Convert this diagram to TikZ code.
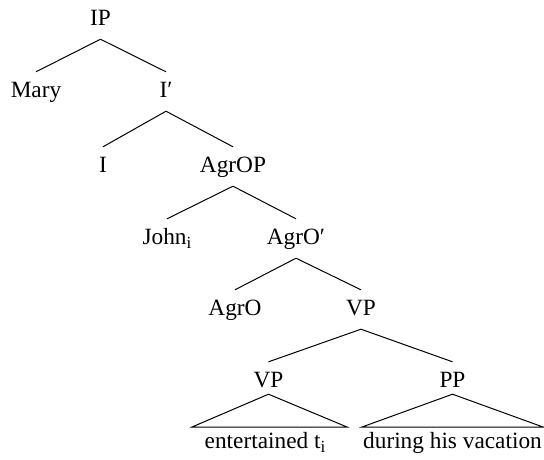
\documentclass[tikz,border=0pt]{standalone}
\usepackage{fontspec}
\setmainfont{Liberation Serif}
% index subscript on a trace or a moved phrase
\newcommand{\idx}[1]{\raisebox{-4pt}{\fontsize{17}{20}\selectfont #1}}
\begin{document}
\begin{tikzpicture}[x=1pt,y=-1pt,
  lab/.style={anchor=base, font=\fontsize{23.3}{28}\selectfont,
              text height=16pt, text depth=5pt, inner xsep=0pt, inner ysep=9pt},
  leaf/.style={lab, inner ysep=5pt},
  branch/.style={line width=1pt, line join=miter}]
\useasboundingbox (0,0) rectangle (544,459);

% labels
\node[lab] (ip)    at (100.5,25)  {IP};
\node[lab] (mary)  at (36,97)     {Mary};
\node[lab] (ibar)  at (166,97)    {I′};
\node[lab] (i)     at (103,172)   {I};
\node[lab] (agrop) at (233,172)   {AgrOP};
\node[lab] (john)  at (167,244)   {John\idx{i}};
\node[lab] (agrob) at (296,244)   {AgrO′};
\node[lab] (agro)  at (235,315)   {AgrO};
\node[lab] (vp)    at (361,315)   {VP};
\node[lab] (vpl)   at (268.5,387) {VP};
\node[lab] (pp)    at (452.5,387) {PP};
\node[leaf] (ent)  at (265,448)   {entertained t\idx{i}};
\node[leaf] (dur)  at (452.5,448) {during his vacation};

% branches
\draw[branch] (ip.south) -- (mary.north);
\draw[branch] (ip.south) -- (ibar.north);
\draw[branch] (ibar.south) -- (i.north);
\draw[branch] (ibar.south) -- (agrop.north);
\draw[branch] (agrop.south) -- (john.north);
\draw[branch] (agrop.south) -- (agrob.north);
\draw[branch] (agrob.south) -- (agro.north);
\draw[branch] (agrob.south) -- (vp.north);
\draw[branch] (vp.south) -- (vpl.north);
\draw[branch] (vp.south) -- (pp.north);

% triangles over the unanalysed constituents
\coordinate (entl) at (192,427);
\coordinate (entr) at (347,427);
\coordinate (durl) at (362,427);
\coordinate (durr) at (543,427);
\draw[branch] ([yshift=7pt]vpl.south) -- (entl) -- (entr) -- cycle;
\draw[branch] ([yshift=7pt]pp.south) -- (durl) -- (durr) -- cycle;
\end{tikzpicture}
\end{document}
